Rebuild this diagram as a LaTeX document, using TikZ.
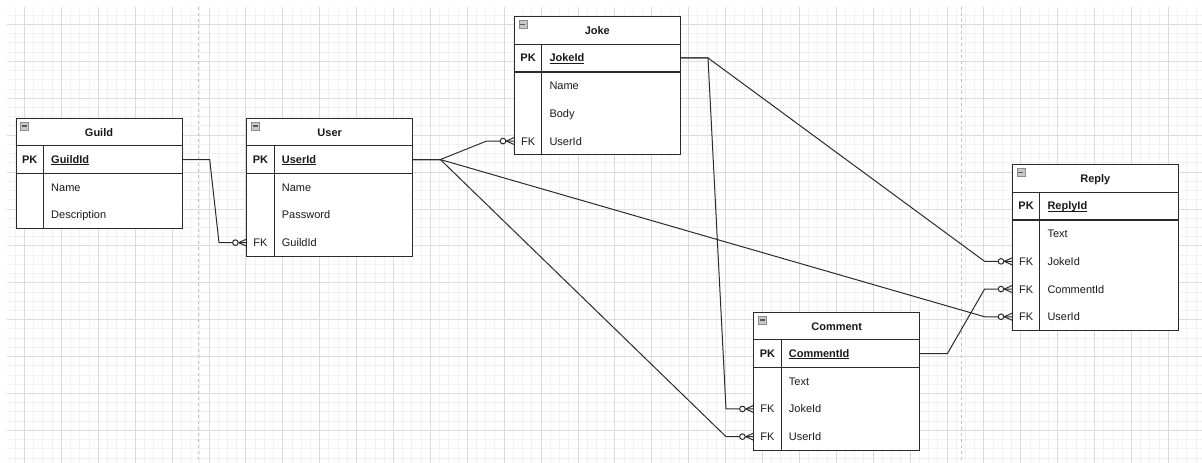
\documentclass[tikz,border=0pt]{standalone}
\usepackage{fontspec}
\setmainfont{Liberation Sans}

\definecolor{linec}{HTML}{2B2B2B}
\definecolor{txt}{HTML}{1A1A1A}
\definecolor{gridminor}{HTML}{F1F1F1}
\definecolor{gridmajor}{HTML}{DCDCDC}
\definecolor{pagebrk}{HTML}{C2C2C2}
\definecolor{iconfill}{HTML}{C9C9C9}

% underline drawn just under the baseline
\newcommand{\keyul}[1]{\setbox0\hbox{#1}\rlap{\rule[-1.6pt]{\wd0}{0.7pt}}\box0}

\tikzset{
  tblframe/.style={draw=linec, line width=1pt, fill=white, inner sep=0pt, outer sep=0pt, minimum width=166pt},
  tblhead/.style={draw=linec, line width=1pt, fill=white, inner sep=0pt, outer sep=0pt,
    minimum width=166pt, minimum height=27.4pt, text height=8pt, text depth=0pt,
    font=\fontsize{11pt}{13pt}\selectfont\bfseries, text=txt},
  tblrow/.style={inner sep=0pt, outer sep=0pt, minimum width=166pt, minimum height=27.7pt},
  keytxt/.style={inner sep=0pt, anchor=base, font=\fontsize{11pt}{13pt}\selectfont, text=txt},
  fieldtxt/.style={inner sep=0pt, anchor=base west, font=\fontsize{11pt}{13pt}\selectfont, text=txt},
  iconbox/.style={draw=black!45, fill=iconfill, line width=0.4pt, minimum size=8pt, inner sep=0pt,
    path picture={\draw[line width=1.3pt, draw=black!65]
      ([xshift=1.4pt]path picture bounding box.west) -- ([xshift=-1.4pt]path picture bounding box.east);}},
  keysep/.style={draw=linec, line width=1.4pt},
  divider/.style={draw=linec, line width=1pt},
  conn/.style={draw=linec, line width=1pt},
  gridmin/.style={draw=gridminor, line width=0.6pt},
  gridmaj/.style={draw=gridmajor, line width=0.6pt},
  pagebreak/.style={draw=pagebrk, line width=0.7pt, dash pattern=on 3pt off 3pt},
}

% #1 name, #2 x, #3 y (top), #4 title, #5 primary key, #6 key/field rows, #7 number of rows
\newcommand{\entity}[7]{%
  \node[tblframe, anchor=north west, minimum height={27.4pt+27.7pt*(#7+1)}] (#1) at (#2,#3) {};
  \node[tblhead, anchor=north west] (#1-h) at (#2,#3) {#4};
  \node[iconbox, anchor=north west] (#1-icon) at ({#2+4.3},{#3+3.4}) {};
  \node[tblrow, anchor=north west] (#1-pk) at (#2,{#3+27.4}) {};
  \draw[divider] ([xshift=27.6pt]#1-pk.north west) -- ([xshift=27.6pt]#1.south west);
  \draw[keysep] (#1-pk.south west) -- (#1-pk.south east);
  \node[keytxt] (#1-pkk) at ([xshift=13.8pt,yshift=-3.95pt]#1-pk.west) {\bfseries PK};
  \node[fieldtxt] (#1-pkf) at ([xshift=35pt,yshift=-3.95pt]#1-pk.west) {\bfseries\keyul{#5}};
  \foreach \k/\f [count=\i] in {#6} {
    \node[tblrow, anchor=north west] (#1-r\i) at (#2,{#3+27.4+27.7*\i}) {};
    \node[keytxt] (#1-k\i) at ([xshift=13.8pt,yshift=-3.95pt]#1-r\i.west) {\k};
    \node[fieldtxt] (#1-f\i) at ([xshift=35pt,yshift=-3.95pt]#1-r\i.west) {\f};
  }
}

% zero-or-many end mark at an entity row
\newcommand{\zeromany}[1]{%
  \draw[conn] ([xshift=-8pt]#1) -- ([yshift=3.6pt]#1)
              ([xshift=-8pt]#1) -- ([yshift=-3.6pt]#1);
  \draw[conn, fill=white] ([xshift=-11.3pt]#1) circle[radius=2.8pt];
}

\begin{document}
\begin{tikzpicture}[x=1pt, y=-1pt]
  \useasboundingbox (0,0) rectangle (1202,463);
  \fill[white] (0,0) rectangle (1202,463);

  % background grid
  \foreach \i in {0,...,128} \draw[gridmin] ({15.075+9.225*\i},7) -- ({15.075+9.225*\i},463);
  \foreach \i in {0,...,48} \draw[gridmin] (7,{15.075+9.225*\i}) -- (1202,{15.075+9.225*\i});
  \foreach \i in {0,...,31} \draw[gridmaj] ({24.3+36.9*\i},7) -- ({24.3+36.9*\i},463);
  \foreach \i in {0,...,11} \draw[gridmaj] (7,{24.3+36.9*\i}) -- (1202,{24.3+36.9*\i});

  % page breaks
  \draw[pagebreak] (198.3,7) -- (198.3,463);
  \draw[pagebreak] (961,7) -- (961,463);

  % entities
  \entity{guild}{16}{118.3}{Guild}{GuildId}{/Name,/Description}{2}
  \entity{user}{246.7}{118.3}{User}{UserId}{/Name,/Password,FK/GuildId}{3}
  \entity{joke}{514.3}{16.7}{Joke}{JokeId}{/Name,/Body,FK/UserId}{3}
  \entity{reply}{1012.3}{164.7}{Reply}{ReplyId}{/Text,FK/JokeId,FK/CommentId,FK/UserId}{4}
  \entity{comment}{753.7}{312.3}{Comment}{CommentId}{/Text,FK/JokeId,FK/UserId}{3}

  % relationships
  \draw[conn] (guild-pk.east) -- ++(27.7,0) -- ([xshift=-27.7pt]user-r3.west) -- (user-r3.west);
  \draw[conn] (user-pk.east) -- ++(27.7,0) -- ([xshift=-27.7pt]joke-r3.west) -- (joke-r3.west);
  \draw[conn] (user-pk.east) -- ++(27.7,0) -- ([xshift=-27.7pt]reply-r4.west) -- (reply-r4.west);
  \draw[conn] (user-pk.east) -- ++(27.7,0) -- ([xshift=-27.7pt]comment-r3.west) -- (comment-r3.west);
  \draw[conn] (joke-pk.east) -- ++(27.7,0) -- ([xshift=-27.7pt]reply-r2.west) -- (reply-r2.west);
  \draw[conn] (joke-pk.east) -- ++(27.7,0) -- ([xshift=-27.7pt]comment-r2.west) -- (comment-r2.west);
  \draw[conn] (comment-pk.east) -- ++(27.7,0) -- ([xshift=-27.7pt]reply-r3.west) -- (reply-r3.west);

  \zeromany{user-r3.west}
  \zeromany{joke-r3.west}
  \zeromany{reply-r4.west}
  \zeromany{comment-r3.west}
  \zeromany{reply-r2.west}
  \zeromany{comment-r2.west}
  \zeromany{reply-r3.west}
\end{tikzpicture}
\end{document}
